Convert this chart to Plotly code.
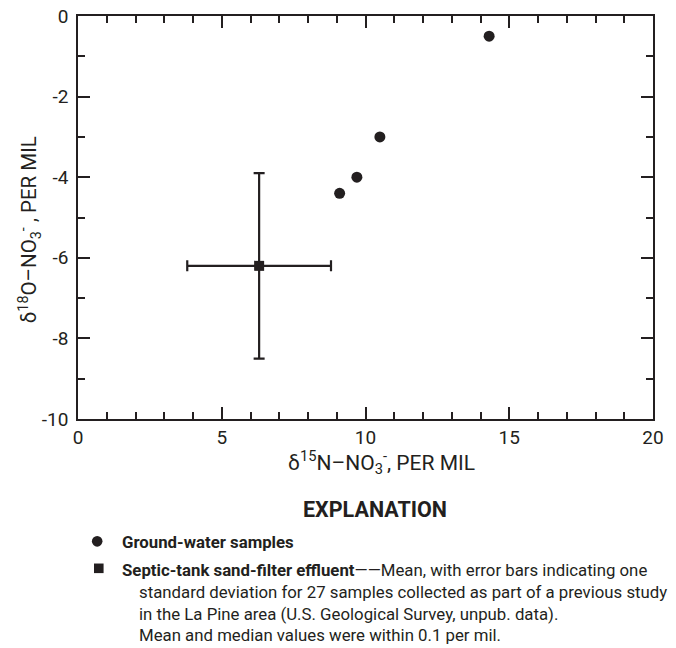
import plotly.graph_objects as go

# ---- data ----
gw_d15n = [14.3, 10.5, 9.7, 9.1]
gw_d18o = [-0.5, -3.0, -4.0, -4.4]

septic_d15n = [6.3]
septic_d18o = [-6.2]
septic_sd15n = [2.5]
septic_sd18o = [2.3]

x_ticks = [0, 5, 10, 15, 20]
x_tick_labels = ["0", "5", "10", "15", "20"]
y_ticks = [0, -2, -4, -6, -8, -10]
y_tick_labels = ["0", "-2", "-4", "-6", "-8", "-10"]

INK = "#231f20"
FONT = "Roboto, Liberation Sans, sans-serif"

W, H = 676, 648
L, R, T, B = 77.5, 653.0, 16.0, 419.5


def px(x):
    return (x - L) / (R - L)


def py(y):
    return (B - y) / (B - T)


fig = go.Figure()
fig.add_trace(go.Scatter(
    x=septic_d15n, y=septic_d18o, mode="markers",
    marker=dict(symbol="square", size=10, color=INK),
    error_x=dict(type="data", array=septic_sd15n, color=INK, thickness=2.2, width=5.5),
    error_y=dict(type="data", array=septic_sd18o, color=INK, thickness=2.2, width=5.5),
    showlegend=False, cliponaxis=False,
))
fig.add_trace(go.Scatter(
    x=gw_d15n, y=gw_d18o, mode="markers",
    marker=dict(symbol="circle", size=11, color=INK),
    showlegend=False, cliponaxis=False,
))

axis_common = dict(
    showgrid=False, zeroline=False, showline=True, linecolor=INK, linewidth=1.5,
    ticks="inside", tickcolor=INK, tickwidth=1.5, mirror="ticks", automargin=False,
    tickfont=dict(family=FONT, size=19, color=INK),
)
fig.update_xaxes(range=[0, 20], tickvals=x_ticks, ticktext=x_tick_labels, ticklen=12,
                 minor=dict(dtick=1, ticklen=7, ticks="inside", tickcolor=INK, tickwidth=1.5),
                 **axis_common)
fig.update_yaxes(range=[-10, 0], tickvals=y_ticks, ticktext=y_tick_labels, ticklen=12,
                 ticklabelstandoff=4,
                 minor=dict(dtick=1, ticklen=7, ticks="inside", tickcolor=INK, tickwidth=1.5),
                 **axis_common)


def note(x, y, text, size, xanchor="center", angle=0, family=FONT):
    return dict(x=px(x), y=py(y), xref="paper", yref="paper", showarrow=False,
                xanchor=xanchor, yanchor="middle", textangle=angle, text=text,
                font=dict(family=family, size=size, color=INK))


ann = [
    note(381, 463, "δ<sup>15</sup>N–NO<sub>3</sub><sup>-</sup>, PER MIL", 21),
    note(29, 230, "δ<sup>18</sup>O–NO<sub>3</sub><sup>-</sup> , PER MIL", 20.5, angle=-90),
    note(374.5, 510, "<b>EXPLANATION</b>", 21.5),
]

lines = [
    (120, 543, "<b>Ground-water samples</b>"),
    (120, 570.5, "<b>Septic-tank sand-filter effluent</b>——Mean, with error bars indicating one"),
    (136.5, 593, "standard deviation for 27 samples collected as part of a previous study"),
    (136.5, 614.5, "in the La Pine area (U.S. Geological Survey, unpub. data)."),
    (136.5, 636, "Mean and median values were within 0.1 per mil."),
]
for lx, ly, t in lines:
    ann.append(note(lx, ly, t, 16.8, xanchor="left"))


# legend symbols (layout decorations in pixel-derived paper coords)
def shape_box(cx, cy, half, kind):
    return dict(type=kind, xref="paper", yref="paper",
                x0=px(cx - half), x1=px(cx + half), y0=py(cy + half), y1=py(cy - half),
                fillcolor=INK, line=dict(width=0))


shapes = [shape_box(96.7, 542, 5.3, "circle"), shape_box(98.3, 569, 4.8, "rect")]

fig.update_layout(
    width=W, height=H, margin=dict(l=L, r=W - R, t=T, b=H - B),
    paper_bgcolor="white", plot_bgcolor="white", annotations=ann, shapes=shapes,
)
fig.write_html("out.html")
